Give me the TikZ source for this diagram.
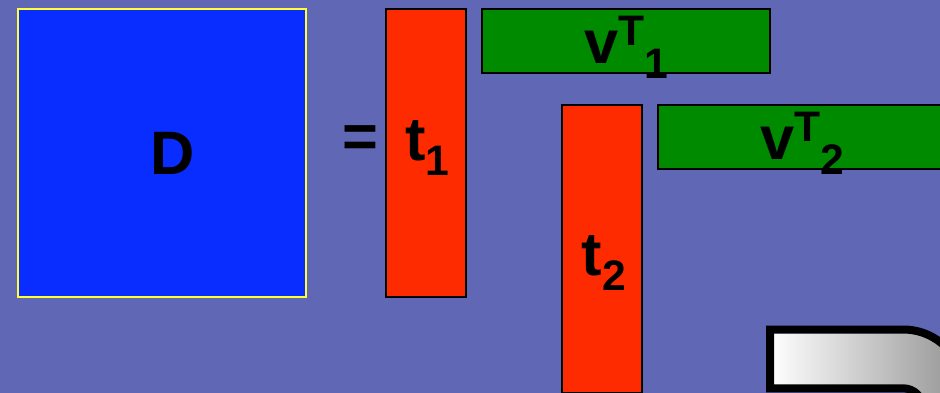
\documentclass[tikz,border=0pt]{standalone}
\usepackage{fontspec}
\setmainfont{Liberation Sans}
\usepackage{xcolor}
\usetikzlibrary{positioning}
\definecolor{slide}{HTML}{6068B6}
\definecolor{dblue}{HTML}{0A2DFF}
\definecolor{tred}{HTML}{FF2B00}
\definecolor{vgreen}{HTML}{008A00}
\definecolor{dline}{HTML}{FFFF33}
\newcommand{\bigtext}{\fontsize{46}{46}\selectfont\bfseries}
\newcommand{\smalltext}{\fontsize{32}{32}\selectfont\bfseries}
\newcommand{\lowtext}[1]{\raisebox{-11.5pt}{\smalltext #1}}
\newcommand{\hightext}[1]{\raisebox{13.5pt}{\smalltext #1}}
\newcommand{\shifttext}[2]{\smash{\raisebox{#1}{#2}}}
\tikzset{
dbox/.style={
draw=dline,
line width=1.1pt,
outer sep=0pt,
minimum width=216pt,
minimum height=216pt,
fill=dblue,
inner sep=0pt,
font=\bigtext
},
tbox/.style={
draw=black,
line width=1.1pt,
outer sep=0pt,
minimum width=60pt,
minimum height=216pt,
fill=tred,
inner sep=0pt,
font=\bigtext
},
vbox/.style={
draw=black,
line width=1.1pt,
outer sep=0pt,
minimum width=216pt,
minimum height=48pt,
fill=vgreen,
inner sep=0pt,
font=\bigtext
}
}
\begin{document}
\begin{tikzpicture}[x=0.75pt,y=-0.75pt]
\useasboundingbox (0,0) rectangle (940,393);
\clip (0,0) rectangle (940,393);
\fill[slide] (0,0) rectangle (940,393);
\node[dbox](d) at (162,153){\shifttext{-16pt}{\hspace*{16pt}D}};
\node[tbox,right=60pt of d](t1){\shifttext{-5.5pt}{\hspace*{2pt}t\lowtext{1}}};
\node[font=\bigtext,inner sep=0pt](eq) at (360,136){\shifttext{-16pt}{=}};
\node[vbox,right=12pt of t1.north east,anchor=north west](v1){\shifttext{-16.5pt}{v\hightext{T}\lowtext{1}}};
\node[tbox,below right=72pt and 72pt of t1.north east,anchor=north west](t2){\shifttext{-19.5pt}{\hspace*{3pt}t\lowtext{2}}};
\node[vbox,right=12pt of t2.north east,anchor=north west](v2){\shifttext{-16.5pt}{v\hightext{T}\lowtext{2}}};
% bent pipe, runs off the corner
\draw[line width=6pt,left color=white,right color=gray!85,shading angle=90,miter limit=10]
(770,329.5) -- (903,329.5) .. controls (937,329.5) and (964,357) .. (964,390.5)
-- (964,410) -- (923,410) -- (923,408) .. controls (923,397) and (914,388.3) .. (903,388.3)
-- (770,388.3) -- cycle;
\end{tikzpicture}
\end{document}
